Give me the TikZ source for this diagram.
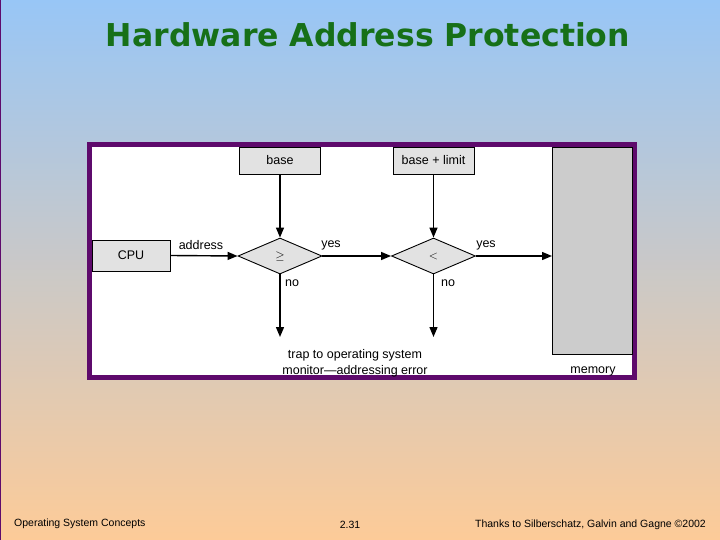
\documentclass[tikz,border=0pt]{standalone}
\usepackage{fontspec}
\setmainfont{Liberation Sans}
\newfontfamily\titlefont{DejaVu Sans}
\usetikzlibrary{shapes.geometric,arrows.meta}
\definecolor{topc}{HTML}{98C6F6}
\definecolor{botc}{HTML}{FDCB98}
\definecolor{frame}{HTML}{5E0A6C}
\definecolor{ttl}{HTML}{177018}
\definecolor{boxg}{HTML}{E2E2E2}
\begin{document}
\begin{tikzpicture}[x=1pt,y=-1pt,
  box/.style={draw,line width=0.9pt,fill=boxg,minimum width=81pt,minimum height=27pt,inner sep=0,font=\fontsize{12.5}{14}\selectfont},
  dia/.style={draw,line width=0.9pt,fill=boxg,diamond,aspect=2.33,minimum width=84pt,minimum height=36pt,inner sep=0,font=\fontsize{13}{14}\selectfont},
  lbl/.style={font=\fontsize{12.5}{14}\selectfont,inner sep=0},
  arr/.style={-{Triangle[length=10pt,width=8pt]},line width=1.4pt},
  foot/.style={font=\fontsize{10.5}{12}\selectfont,inner sep=0}]
\shade[top color=topc,bottom color=botc] (0,0) rectangle (720,540);
\useasboundingbox (0,0) rectangle (720,540);
\draw[frame,line width=1pt] (0.5,0) -- (0.5,540);
\node[ttl,font=\titlefont\bfseries\fontsize{31.5}{34}\selectfont] (title) at (368,35) {Hardware Address Protection};
\draw[frame,fill=white,line width=5pt] (89.5,144.5) rectangle (634,377);
\node[draw,line width=0.9pt,fill=gray!40,minimum width=80pt,minimum height=207pt,inner sep=0,anchor=north west] (mem) at (552,147) {};
\node[box] (base) at (280,160.5) {base};
\node[box] (bl) at (433.5,160.5) {base + limit};
\node[box,minimum width=78pt,minimum height=31pt] (cpu) at (131,255.5) {CPU};
\node[dia] (d1) at (280,256) {$\geq$};
\node[dia] (d2) at (433.5,256) {$<$};
\coordinate (t1) at (280,337);
\coordinate (t2) at (433.5,337);
\draw[arr] (base) -- (d1.north);
\draw[arr] (bl) -- (d2.north);
\draw[arr] (cpu.east) -- (d1.west);
\draw[arr] (d1.east) -- (d2.west);
\draw[arr] (d2.east) -- (mem.west |- d2.east);
\draw[arr] (d1.south) -- (t1);
\draw[arr] (d2.south) -- (t2);
\node[lbl] (a) at (201,245) {address};
\node[lbl] (y1) at (331,245) {yes};
\node[lbl] (y2) at (486,245) {yes};
\node[lbl] (n1) at (292,283) {no};
\node[lbl] (n2) at (448,283) {no};
\node[lbl] (tr1) at (355,355) {trap to operating system};
\node[lbl] (tr2) at (355,371) {monitor—addressing error};
\node[lbl] (ml) at (593,371) {memory};
\node[foot,anchor=west] (f1) at (14,524) {Operating System Concepts};
\node[foot] (f2) at (350,525) {2.31};
\node[foot,anchor=east] (f3) at (706,525) {Thanks to  Silberschatz, Galvin and  Gagne ©2002};
\end{tikzpicture}
\end{document}
